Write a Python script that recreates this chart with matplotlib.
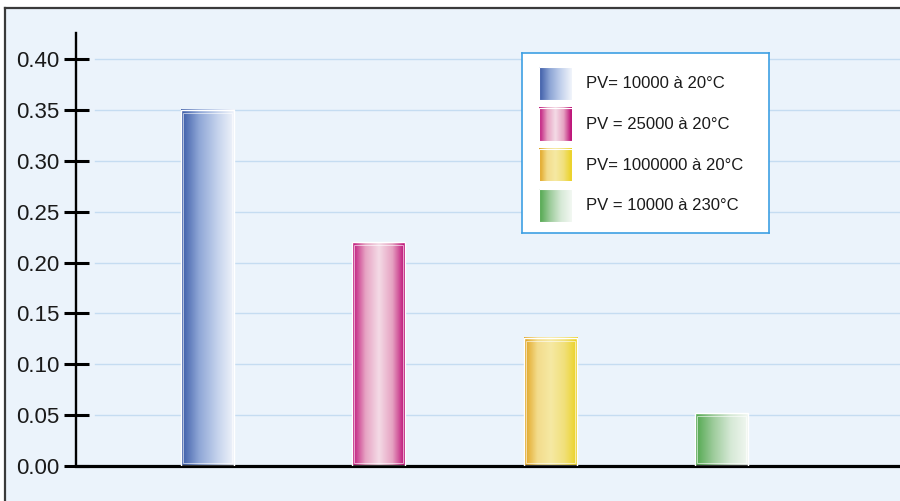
import numpy as np
import matplotlib.pyplot as plt
from matplotlib.colors import LinearSegmentedColormap
from matplotlib.patches import Rectangle

labels = ['PV= 10000 à 20°C', 'PV = 25000 à 20°C', 'PV= 1000000 à 20°C', 'PV = 10000 à 230°C']
values = [0.35, 0.22, 0.126, 0.052]
positions = [1, 2, 3, 4]
yticks = [0.00, 0.05, 0.10, 0.15, 0.20, 0.25, 0.30, 0.35, 0.40]
gradients = [
    ['#3a5aa6', '#8ea6d6', '#c3d1ec', '#f2f5fb'],
    ['#bd0f78', '#e7a3c3', '#f4dbe6', '#e6a2c2', '#b9006f'],
    ['#e0a11c', '#f3dc8c', '#f6e9a3', '#f1e07a', '#ebd11e'],
    ['#4ea64b', '#9ccb9a', '#d6e9d6', '#f3f8f3'],
]

plt.rcParams['font.family'] = ['Liberation Sans', 'DejaVu Sans']
fig = plt.figure(figsize=(9, 5.01), dpi=100, facecolor='white')

# light blue panel with dark top/left frame
fig.patches.append(Rectangle((5/900, 0), 1, 493/501, transform=fig.transFigure,
                             facecolor='#ebf3fb', edgecolor='none', zorder=-10))
fig.lines.append(plt.Line2D([5/900, 1], [493/501, 493/501], transform=fig.transFigure,
                            color='#3a3a3a', lw=1.6, zorder=-5))
fig.lines.append(plt.Line2D([5/900, 5/900], [0, 493/501], transform=fig.transFigure,
                            color='#3a3a3a', lw=1.6, zorder=-5))

ax = fig.add_axes([76/900, 35/501, 824/900, 433/501])
ax.set_facecolor('none')
ax.spines['top'].set_visible(False)
ax.spines['right'].set_visible(False)
ax.spines['left'].set_linewidth(1.7)
ax.spines['bottom'].set_linewidth(2.3)
ax.set_xticks([])
ax.set_yticks(yticks)
ax.set_yticklabels([f'{t:.2f}' for t in yticks])
ax.tick_params(axis='y', direction='inout', length=18, width=2.2, pad=3,
               labelsize=16, labelcolor='#1a1a1a')

for t in yticks[1:]:
    ax.axhline(t, xmin=19/824, xmax=1, color='#c5dcf1', lw=1, zorder=0)

w = 0.31
for x, v, cols in zip(positions, values, gradients):
    cmap = LinearSegmentedColormap.from_list('g', cols)
    grad = np.linspace(0, 1, 256).reshape(1, -1)
    ax.imshow(grad, cmap=cmap, aspect='auto', extent=[x - w/2, x + w/2, 0, v],
              interpolation='bilinear', zorder=2)
    ax.add_patch(Rectangle((x - w/2, 0), w, v, facecolor='none',
                           edgecolor='white', lw=1, zorder=3))
    ax.add_patch(Rectangle((x - w/2 + 0.012, 0.003), w - 0.024, v - 0.006, facecolor='none',
                           edgecolor='white', lw=0.7, alpha=0.6, zorder=3))
ax.set_xlim(0.236, 5.038)
ax.set_ylim(0, 0.4256)

# legend box
lax = fig.add_axes([522/900, (501-233)/501, 247/900, 180/501])
lax.set_xticks([])
lax.set_yticks([])
lax.set_facecolor('white')
for s in lax.spines.values():
    s.set_color('#3d9fe3')
    s.set_linewidth(1.2)
for i, (lab, cols) in enumerate(zip(labels, gradients)):
    cy = 31 + i * 40.5
    cmap = LinearSegmentedColormap.from_list('g', cols)
    grad = np.linspace(0, 1, 256).reshape(1, -1)
    lax.imshow(grad, cmap=cmap, aspect='auto', extent=[17, 50, cy + 16.5, cy - 16.5],
               interpolation='bilinear')
    lax.add_patch(Rectangle((17, cy - 16.5), 33, 33, facecolor='none',
                            edgecolor='white', lw=0.8))
    lax.text(64, cy, lab, fontsize=12, va='center', ha='left', color='#1a1a1a')
lax.set_xlim(0, 247)
lax.set_ylim(180, 0)

fig.savefig('out.png', dpi=100, facecolor='white')
